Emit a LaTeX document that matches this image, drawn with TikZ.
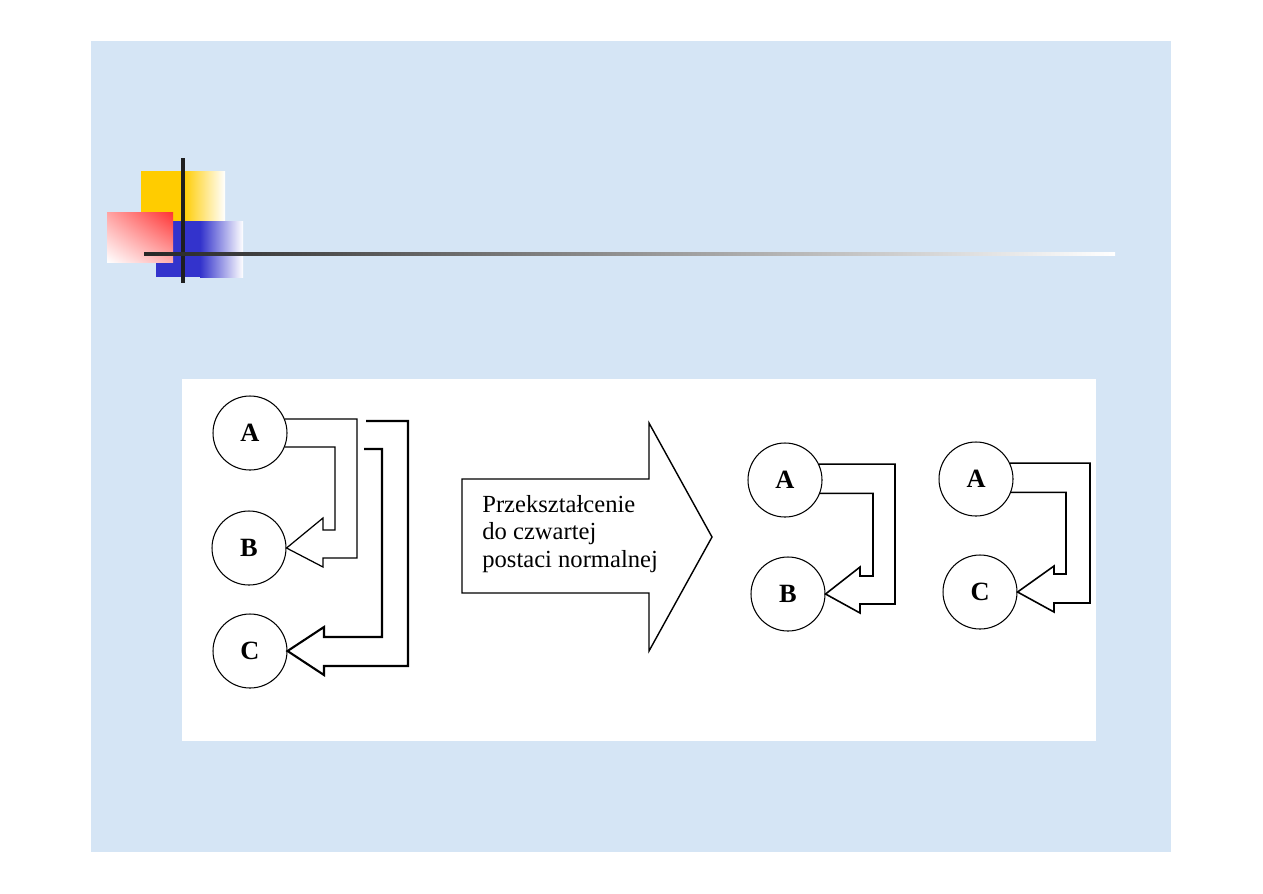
\documentclass[tikz,border=0pt]{standalone}
\usepackage{fontspec}
\setmainfont{Liberation Serif}
\usetikzlibrary{shadings}
\definecolor{slidebg}{RGB}{213,229,245}
\definecolor{decoyellow}{RGB}{255,204,0}
\definecolor{decoblue}{RGB}{51,51,204}
\definecolor{decored}{RGB}{255,51,51}
\tikzset{
  circ/.style={draw, circle, minimum size=74*0.02cm, inner sep=0pt, line width=0.6pt,
               font=\fontsize{15}{17}\selectfont\bfseries},
  thinconn/.style={draw, line width=0.7pt},
  thickconn/.style={draw, line width=1.2pt},
  midconn/.style={draw, line width=0.9pt},
  bigarrow/.style={draw, line width=0.8pt, fill=white},
  arrowtext/.style={align=left, inner sep=0pt, font=\fontsize{14}{15.6}\selectfont}
}
\begin{document}
\begin{tikzpicture}[x=0.02cm,y=-0.02cm]
\useasboundingbox (0,0) rectangle (1263,893);
\fill[white] (0,0) rectangle (1263,893);
\fill[slidebg] (91,41) rectangle (1171,852);
% decoration
\fill[decoyellow] (141,171) rectangle (183,221);
\shade[left color=decoyellow,right color=white] (183,171) rectangle (225,221);
\fill[decoblue] (156,221) rectangle (200,277);
\shade[left color=decoblue,right color=white] (200,221) rectangle (243,277);
\shade[upper left=decored!45!white, upper right=decored, lower left=white, lower right=decored!40!white] (107,212) rectangle (173,262);
\fill[black!88] (181,158) rectangle (185,283);
\shade[left color=black!85, middle color=black!35, right color=white] (144,252) rectangle (1115,255);
% diagram panel
\fill[white] (182,379) rectangle (1096,741);
% left group
\node[circ] (A) at (250,433) {A};
\node[circ] (B) at (249,548) {B};
\node[circ] (C) at (250,651) {C};
\draw[thinconn] (A.22) -| (357,558) -- (323,558) -- (323,567) -- (B.east) -- (323,518) -- (323,530) -- (335,530) |- (A.-22);
\coordinate (ac1) at (366,421);
\coordinate (ac2) at (364,449);
\draw[thickconn] (ac1) -| (408,666) -- (324,666) -- (324,675) -- (C.east) -- (324,627) -- (324,637) -- (382,637) |- (ac2);
% big arrow
\draw[bigarrow] (462,479) -- (649,479) -- (649,423) -- (712,537) -- (649,651) -- (649,593) -- (462,593) -- cycle;
\node[arrowtext, anchor=north west] (txt) at (482,495) {Przekształcenie\\do czwartej\\postaci normalnej};
% right group 1
\node[circ] (A1) at (785,480) {A};
\node[circ] (B1) at (788,594) {B};
\draw[midconn] (A1.25) -| (895,604) -- (860,604) -- (860,613) -- (B1.east) -- (860,567) -- (860,576) -- (873,576) |- (A1.-21);
% right group 2
\node[circ] (A2) at (976,479) {A};
\node[circ] (C2) at (980,592) {C};
\draw[midconn] (A2.25) -| (1090,603) -- (1054,603) -- (1054,612) -- (C2.east) -- (1054,566) -- (1054,574) -- (1066,574) |- (A2.-21);
\end{tikzpicture}
\end{document}
